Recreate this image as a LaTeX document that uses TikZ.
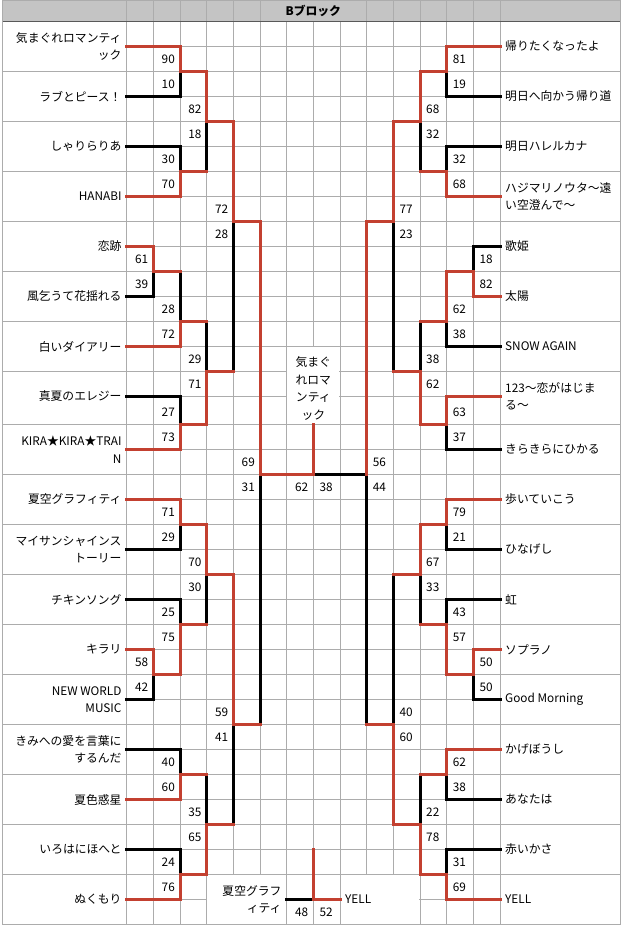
\documentclass[tikz,border=0pt]{standalone}
\usepackage{fontspec}
\setmainfont{Noto Sans CJK JP}
\usepackage{tikz}
\usetikzlibrary{calc}
\definecolor{winred}{RGB}{195,64,48}
\definecolor{cellgray}{RGB}{172,172,172}
\definecolor{headgray}{RGB}{196,196,196}
\newcommand{\cellfont}{\fontsize{11.8}{17.5}\selectfont}
\tikzset{
  %Define style for bracket lines
  winline/.style={draw=winred, line width=3pt, line cap=rect},
  loseline/.style={draw=black, line width=3pt, line cap=rect},
  % Define style for the table
  cellline/.style={draw=cellgray, line width=0.9pt},
  headline/.style={draw=black!65, line width=1.2pt},
  % Define style for texts
  lname/.style={anchor=east, align=right, inner sep=0pt, font=\cellfont},
  rname/.style={anchor=west, align=left, inner sep=0pt, font=\cellfont},
  lscore/.style={anchor=east, inner sep=0pt, font=\cellfont},
  rscore/.style={anchor=west, inner sep=0pt, font=\cellfont},
  midlabel/.style={align=center, inner sep=0pt, font=\cellfont}
}

\begin{document}
\begin{tikzpicture}[x=1pt,y=-1pt]
  \useasboundingbox (0,0) rectangle (624,929);
  \foreach \k in {0,...,14}{
    \pgfmathsetmacro\gx{126.667+26.667*\k}
    \foreach \j in {0,...,36}{
      \pgfmathsetmacro\gy{21.5+25*\j+3*(\j>15)}
      \coordinate (g-\k-\j) at (\gx,\gy);
    }
  }
  \coordinate (tl) at (2.5,0.5);
  \coordinate (br) at (620,924.5);

  \fill[headgray] (tl) rectangle (g-14-0 -| br);
  \foreach \k in {0,...,5,9,10,...,14}
    \draw[cellline] (g-\k-0) -- (g-\k-0 |- tl);
  \foreach \j in {1,...,36}
    \draw[cellline] (g-0-\j) -- (g-14-\j);
  \foreach \k in {0,...,14}
    \draw[cellline] (g-\k-0) -- (g-\k-36);
  \foreach \j in {2,4,...,34}{
    \draw[cellline] (g-0-\j -| tl) -- (g-0-\j);
    \draw[cellline] (g-14-\j) -- (g-14-\j -| br);
  }
  \foreach \a/\b in {6-13/8-16, 3-34/6-36, 8-34/11-36}
    \fill[white] ([shift={(0.6,0.6)}]g-\a) rectangle ([shift={(-0.6,-0.6)}]g-\b);
  \draw[cellline] (tl) rectangle (br);
  \draw[headline] (g-0-0 -| tl) -- (g-0-0 -| br);

  \foreach \a/\b in {0-3/2-2, 0-5/2-6, 3-6/3-4, 0-11/1-10, 2-10/2-12, 3-12/3-14,
      0-15/2-16, 4-14/4-8, 0-21/2-20, 0-23/2-24, 0-27/1-26, 3-24/3-22,
      0-29/2-30, 3-30/3-32, 0-33/2-34, 4-32/4-28, 5-28/5-18,
      14-3/12-2, 14-5/12-6, 11-6/11-4, 14-9/13-10, 14-13/12-12, 11-12/11-14,
      14-17/12-16, 10-14/10-8, 14-21/12-20, 14-23/12-24, 14-27/13-26,
      11-24/11-22, 10-22/10-28, 14-31/12-30, 11-30/11-32, 14-33/12-34,
      9-28/9-18, 9-18/7-18, 6-35/7-35}
    \draw[loseline] (g-\a) -| (g-\b);

  \draw[winline] (g-0-1) -| (g-2-2) -| (g-3-4) -| (g-4-8) -| (g-5-18) -- (g-7-18) -- (g-7-16);
  \draw[winline] (g-0-7) -| (g-2-6) -- (g-3-6);
  \draw[winline] (g-0-9) -| (g-1-10) -- (g-2-10);
  \draw[winline] (g-0-13) -| (g-2-12) -- (g-3-12);
  \draw[winline] (g-0-17) -| (g-2-16) -| (g-3-14) -- (g-4-14);
  \draw[winline] (g-0-19) -| (g-2-20) -| (g-3-22) -| (g-4-28) -- (g-5-28);
  \draw[winline] (g-0-25) -| (g-1-26) -| (g-2-24) -- (g-3-24);
  \draw[winline] (g-0-31) -| (g-2-30) -- (g-3-30);
  \draw[winline] (g-0-35) -| (g-2-34) -| (g-3-32) -- (g-4-32);
  \draw[winline] (g-14-1) -| (g-12-2) -| (g-11-4) -| (g-10-8) -| (g-9-18);
  \draw[winline] (g-14-7) -| (g-12-6) -- (g-11-6);
  \draw[winline] (g-14-11) -| (g-13-10) -| (g-12-12) -- (g-11-12);
  \draw[winline] (g-14-15) -| (g-12-16) -| (g-11-14) -- (g-10-14);
  \draw[winline] (g-14-19) -| (g-12-20) -| (g-11-22) -- (g-10-22);
  \draw[winline] (g-14-25) -| (g-13-26) -| (g-12-24) -- (g-11-24);
  \draw[winline] (g-14-29) -| (g-12-30) -- (g-11-30);
  \draw[winline] (g-14-35) -| (g-12-34) -| (g-11-32) -| (g-10-28) -- (g-9-28);
  \draw[winline] (g-8-35) -- (g-7-35) -- (g-7-33);

  \foreach \j/\t in {1/{気まぐれロマンティ\\ック}, 3/ラブとピース！, 5/しゃりらりあ,
      7/HANABI, 9/恋跡, 11/風乞うて花揺れる, 13/白いダイアリー, 15/真夏のエレジー,
      17/{KIRA★KIRA★TRAI\\N}, 19/夏空グラフィティ, 21/{マイサンシャインス\\トーリー},
      23/チキンソング, 25/キラリ, 27/{NEW WORLD\\MUSIC}, 29/{きみへの愛を言葉に\\するんだ},
      31/夏色惑星, 33/いろはにほへと, 35/ぬくもり}
    \node[lname] (ln-\j) at ([xshift=-5pt]g-0-\j) {\t};
  \foreach \j/\t in {1/帰りたくなったよ, 3/明日へ向かう帰り道, 5/明日ハレルカナ,
      7/{ハジマリノウタ〜遠\\い空澄んで〜}, 9/歌姫, 11/太陽, 13/SNOW AGAIN,
      15/{123〜恋がはじま\\る〜}, 17/きらきらにひかる, 19/歩いていこう, 21/ひなげし,
      23/虹, 25/ソプラノ, 27/Good Morning, 29/かげぼうし, 31/あなたは,
      33/赤いかさ, 35/YELL}
    \node[rname] (rn-\j) at ([xshift=5pt]g-14-\j) {\t};

  \foreach \k/\j/\a/\b in {2/2/90/10, 3/4/82/18, 2/6/30/70, 4/8/72/28, 1/10/61/39,
      2/12/28/72, 3/14/29/71, 2/16/27/73, 5/18/69/31, 2/20/71/29, 3/22/70/30,
      2/24/25/75, 1/26/58/42, 4/28/59/41, 2/30/40/60, 3/32/35/65, 2/34/24/76}{
    \node[lscore] (ls-\k-\j-a) at ([xshift=-5pt,yshift=12.5pt]g-\k-\j) {\a};
    \node[lscore] (ls-\k-\j-b) at ([xshift=-5pt,yshift=-12.5pt]g-\k-\j) {\b};
  }
  \foreach \k/\j/\a/\b in {12/2/81/19, 11/4/68/32, 12/6/32/68, 10/8/77/23, 13/10/18/82,
      12/12/62/38, 11/14/38/62, 12/16/63/37, 9/18/56/44, 12/20/79/21, 11/22/67/33,
      12/24/43/57, 13/26/50/50, 10/28/40/60, 12/30/62/38, 11/32/22/78, 12/34/31/69}{
    \node[rscore] (rs-\k-\j-a) at ([xshift=6pt,yshift=12.5pt]g-\k-\j) {\a};
    \node[rscore] (rs-\k-\j-b) at ([xshift=6pt,yshift=-12.5pt]g-\k-\j) {\b};
  }
  \node[lscore] (fin-l) at ([xshift=-5pt,yshift=-12.5pt]g-7-18) {62};
  \node[rscore] (fin-r) at ([xshift=6pt,yshift=-12.5pt]g-7-18) {38};
  \node[lscore] (third-l) at ([xshift=-5pt,yshift=-12.5pt]g-7-35) {48};
  \node[rscore] (third-r) at ([xshift=6pt,yshift=-12.5pt]g-7-35) {52};

  \node[midlabel] (champ) at ($(g-7-13)!.5!(g-7-16)+(0,3)$) {気まぐ\\れロマ\\ンティ\\ック};
  \node[lname] (third-a) at ([xshift=-5pt]g-6-35) {夏空グラフ\\ィティ};
  \node[rname] (third-b) at ([xshift=5pt]g-8-35) {YELL};
  \node[midlabel, font=\cellfont\bfseries] (head) at ($(g-7-0)!.5!(g-7-0 |- tl)$) {Bブロック};
\end{tikzpicture}
\end{document}
